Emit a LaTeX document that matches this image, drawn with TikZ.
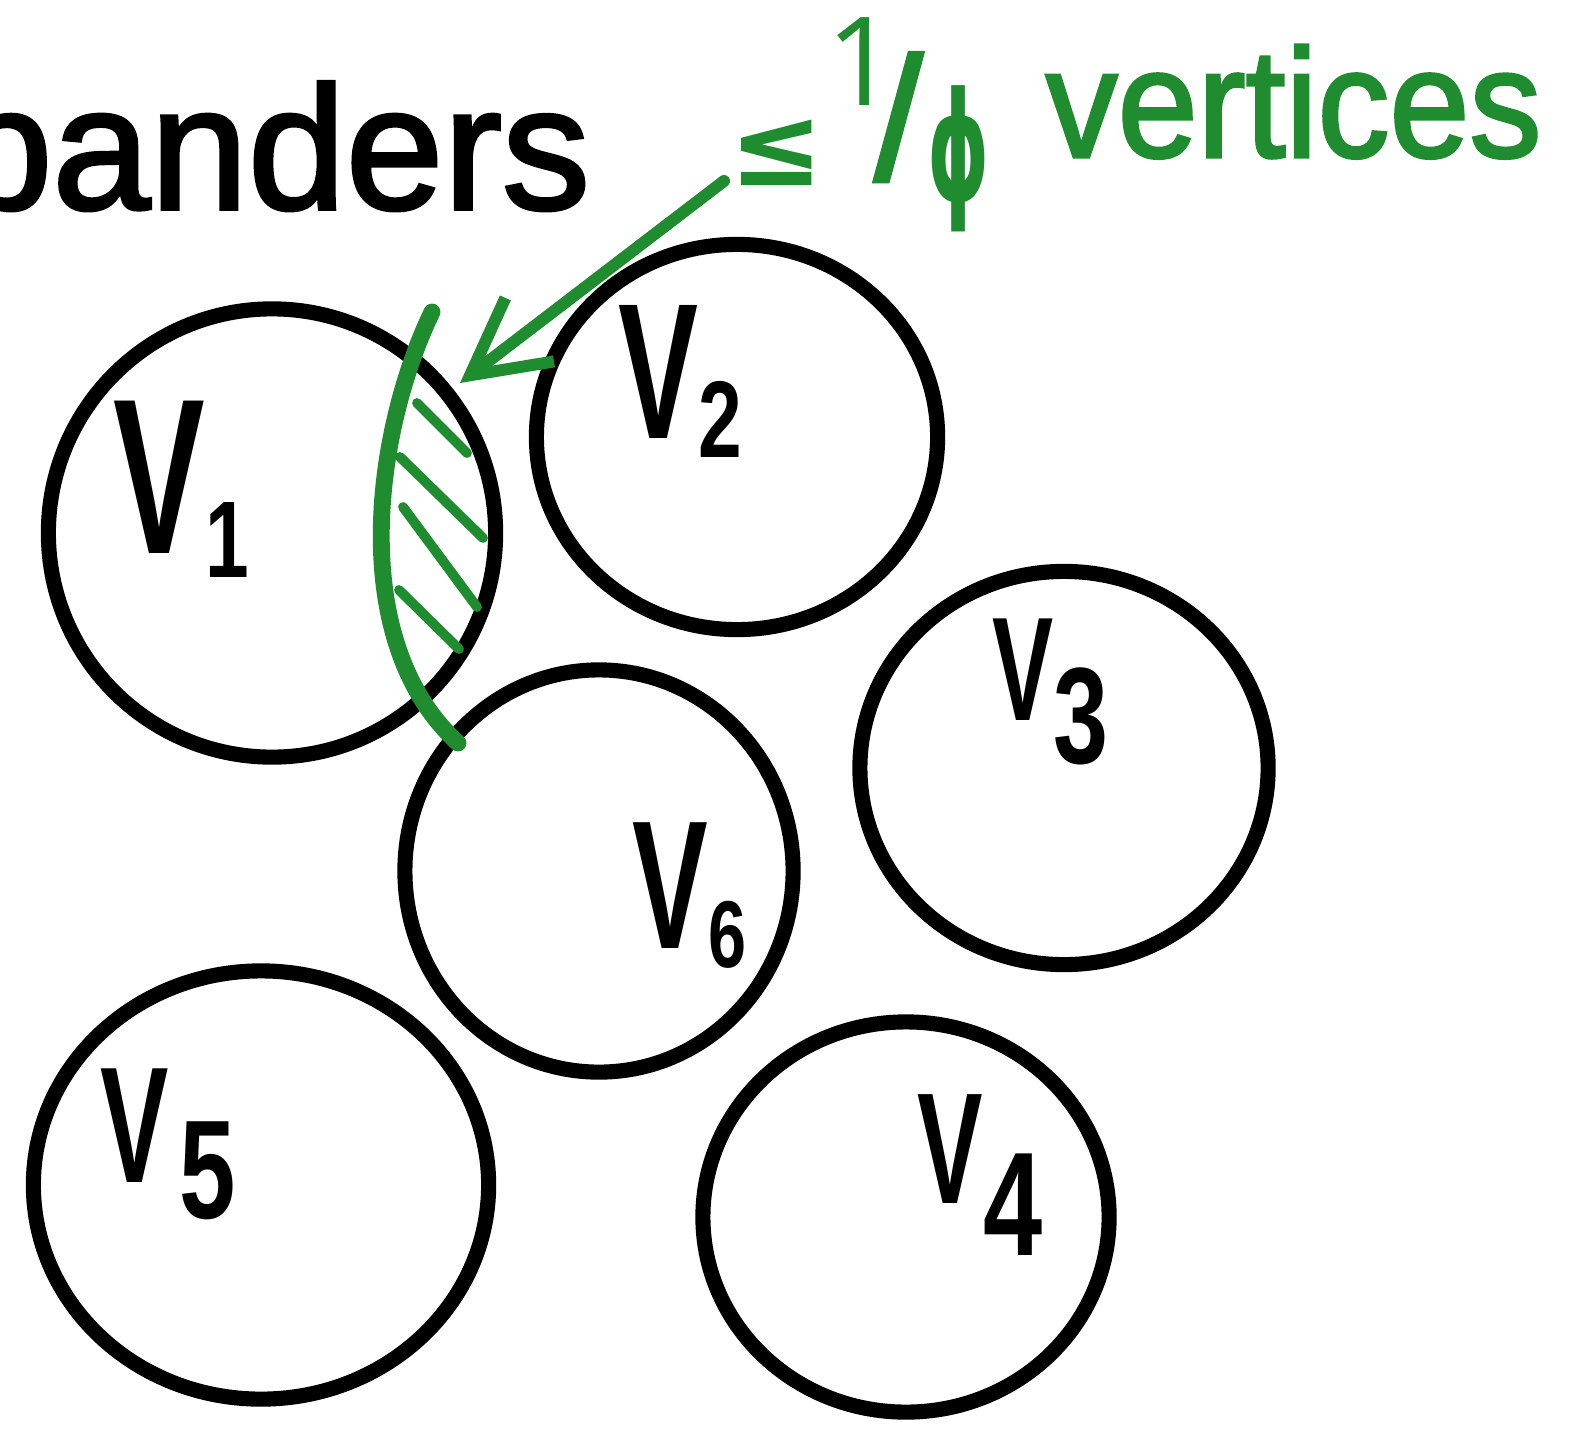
\documentclass[tikz,border=0pt]{standalone}
\usepackage{fontspec}
\setmainfont{Liberation Sans}
\newfontfamily\titlefont[FakeBold=2]{Liberation Sans}
\newfontfamily\symfont{DejaVu Sans}
\newfontfamily\handfont{Open Sans}
\usepackage{graphicx}
\usepackage{xcolor}
\usetikzlibrary{arrows.meta, shapes.geometric}
\definecolor{penGreen}{RGB}{32,140,48}
% V with its index: V size, index size, index, drop of the index
\newcommand{\vpart}[4]{\scalebox{0.62}[1]{\fontsize{#1}{#1}\selectfont V}\raisebox{-#4}{\scalebox{0.72}[1]{\fontsize{#2}{#2}\selectfont #3}}}

\begin{document}
\begin{tikzpicture}[x=0.01cm, y=-0.01cm, line cap=round, >={Straight Barb[length=7.5mm, width=8mm]},
        blob/.style={draw, ellipse, line width=4.3pt, inner sep=0pt},
        vlab/.style={anchor=base west, inner sep=0pt, font=\bfseries},
        note/.style={text=penGreen, inner sep=0pt},
        ink/.style={draw=penGreen, line width=4.8pt},
        hatch/.style={draw=penGreen, line width=2.8pt}]
        \useasboundingbox (0,0) rectangle (1583,1452);
        \clip (0,0) rectangle (1583,1452);

        \node[anchor=base west, inner sep=0pt, font=\titlefont\fontsize{50}{50}\selectfont] (title) at (-46,209) {panders};

        % the six parts
        \node[blob, minimum width=4.47cm, minimum height=4.48cm] (v1) at (272,533) {};
        \node[blob, minimum width=4.01cm, minimum height=3.85cm] (v2) at (737,437) {};
        \node[blob, minimum width=4.08cm, minimum height=3.93cm] (v3) at (1064,768) {};
        \node[blob, minimum width=4.06cm, minimum height=3.90cm] (v4) at (906,1217) {};
        \node[blob, minimum width=4.55cm, minimum height=4.28cm] (v5) at (261,1185) {};
        \node[blob, minimum width=3.88cm, minimum height=4.02cm] (v6) at (599,871) {};

        \node[vlab] (l1) at (113,553) {\vpart{63}{31}{1}{0.24cm}};
        \node[vlab] (l2) at (618,438) {\vpart{55}{31}{2}{0.19cm}};
        \node[vlab] (l3) at (992,720) {\vpart{42}{39}{3}{0.43cm}};
        \node[vlab] (l4) at (917,1203) {\vpart{45}{42}{4}{0.52cm}};
        \node[vlab] (l5) at (100,1182) {\vpart{47}{40}{\kern0.15cm 5}{0.36cm}};
        \node[vlab] (l6) at (632,948) {\vpart{52}{27}{6}{0.19cm}};

        % green note
        \node[note, font=\symfont\bfseries\fontsize{32}{32}\selectfont] (leq) at (777,153) {≤};
        \node[note, anchor=base west, font=\titlefont\fontsize{50}{50}\selectfont] (ratio) at (826,180)
            {\raisebox{0.74cm}{\handfont\fontsize{35}{35}\selectfont 1}\kern-0.23cm/};
        \node[note, font=\symfont\bfseries\fontsize{43}{43}\selectfont] (den) at (959,159) {\scalebox{0.52}[1]{ϕ}};
        \node[note, anchor=base west, font=\titlefont\fontsize{44}{44}\selectfont] (verts) at (1045,157) {\scalebox{0.93}[1]{vertices}};

        \coordinate (tail) at (724,181);
        \coordinate (tip) at (460,383);
        \draw[ink, line width=3.4pt, ->] (tail) -- (tip);

        % cut and shading
        \draw[ink] (432,312) .. controls (375,430) and (345,640) .. (458,743);
        \draw[hatch] (417,403) -- (467,453);
        \draw[hatch] (400,457) -- (483,538);
        \draw[hatch] (403,507) -- (477,607);
        \draw[hatch] (399,590) -- (459,649);
\end{tikzpicture}
\end{document}
